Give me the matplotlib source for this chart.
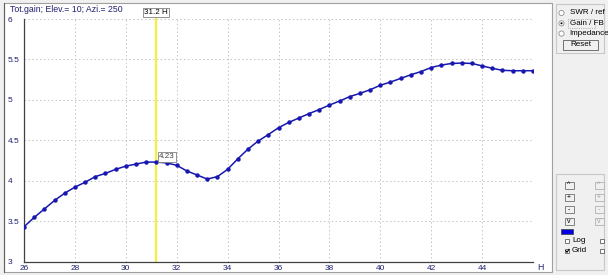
import matplotlib
matplotlib.use("Agg")
import matplotlib.pyplot as plt
from matplotlib.patches import Rectangle, Circle

plt.rcParams["font.family"] = ["Liberation Sans Narrow", "Liberation Sans", "DejaVu Sans"]

# frequency (MHz) and total gain
freq = [26.0, 26.4, 26.8, 27.2, 27.6, 28.0, 28.4, 28.8, 29.2, 29.6,
        30.0, 30.4, 30.8, 31.2, 31.6, 32.0, 32.4, 32.8, 33.2, 33.6,
        34.0, 34.4, 34.8, 35.2, 35.6, 36.0, 36.4, 36.8, 37.2, 37.6,
        38.0, 38.4, 38.8, 39.2, 39.6, 40.0, 40.4, 40.8, 41.2, 41.6,
        42.0, 42.4, 42.8, 43.2, 43.6, 44.0, 44.4, 44.8, 45.2, 45.6, 46.0]
gain = [3.43, 3.545, 3.65, 3.755, 3.845, 3.92, 3.98, 4.05, 4.09, 4.14,
        4.18, 4.205, 4.23, 4.23, 4.22, 4.19, 4.12, 4.07, 4.02, 4.05,
        4.14, 4.27, 4.39, 4.49, 4.57, 4.655, 4.72, 4.775, 4.83, 4.88,
        4.935, 4.985, 5.04, 5.08, 5.125, 5.18, 5.22, 5.265, 5.31, 5.35,
        5.40, 5.43, 5.45, 5.455, 5.45, 5.42, 5.39, 5.365, 5.36, 5.36, 5.36]

x_ticks = [26, 28, 30, 32, 34, 36, 38, 40, 42, 44]
y_ticks = [3, 3.5, 4, 4.5, 5, 5.5, 6]
y_tick_labels = ["3", "3.5", "4", "4.5", "5", "5.5", "6"]
cursor_freq = 31.2
cursor_gain = 4.23
title = "Tot.gain; Elev.= 10; Azi.= 250"

W, H = 608, 275
txt_col = "#202070"
fig = plt.figure(figsize=(W / 100, H / 100), dpi=100, facecolor="#f0f0f0")

# background "window" in pixel coords
bg = fig.add_axes([0, 0, 1, 1])
bg.set_xlim(0, W)
bg.set_ylim(H, 0)
bg.axis("off")
bg.add_patch(Rectangle((4, 3), 548, 269, facecolor="white", edgecolor="#a0a0a0", lw=0.8))
bg.plot([4, 4], [3, 272], color="#606060", lw=0.8)
bg.text(10, 10, title, color=txt_col, fontsize=6.3, va="center", ha="left")
bg.text(540, 267, "H", color=txt_col, fontsize=6.3, va="center", ha="center")

# right control panel
bg.add_patch(Rectangle((556, 4), 48, 49, facecolor="none", edgecolor="#c8c8c8", lw=0.8))
for i, lab in enumerate(["SWR / ref", "Gain / FB", "Impedance"]):
    yy = 13 + i * 10.3
    bg.add_patch(Circle((561.5, yy), 2.6, facecolor="white", edgecolor="#909090", lw=0.6))
    if i == 1:
        bg.add_patch(Circle((561.5, yy), 1.0, facecolor="black"))
        bg.add_patch(Rectangle((568, yy - 4.5), 27, 9, facecolor="none",
                               edgecolor="#808080", lw=0.5, ls=":"))
    bg.text(569.5, yy, lab, fontsize=5.8, va="center", ha="left", color="black")
bg.add_patch(Rectangle((563, 40), 35, 9.5, facecolor="#f0f0f0", edgecolor="#707070", lw=0.7))
bg.text(580.5, 44.8, "Reset", fontsize=5.8, va="center", ha="center", color="black")

bg.add_patch(Rectangle((556, 174), 48, 96, facecolor="none", edgecolor="#c8c8c8", lw=0.8))
for i, sym in enumerate(["^", "+", "-", "v"]):
    yy = 181.5 + i * 12.2
    bg.add_patch(Rectangle((564.5, yy), 9, 7, facecolor="#f0f0f0", edgecolor="#707070", lw=0.6))
    bg.text(569, yy + 3.5, sym, fontsize=5, va="center", ha="center", color="black")
    bg.add_patch(Rectangle((594.5, yy), 9, 7, facecolor="#f0f0f0", edgecolor="#b0b0b0", lw=0.6))
    bg.text(599, yy + 3.5, sym, fontsize=5, va="center", ha="center", color="#a0a0a0")
bg.add_patch(Rectangle((561, 229), 12, 5, facecolor="#0000e0", edgecolor="#404040", lw=0.5))
for i, lab in enumerate(["Log", "Grid"]):
    yy = 241 + i * 10
    bg.add_patch(Rectangle((565, yy - 2.2), 4.4, 4.4, facecolor="white", edgecolor="#606060", lw=0.6))
    bg.add_patch(Rectangle((599.5, yy - 2.2), 4.4, 4.4, facecolor="white", edgecolor="#606060", lw=0.6))
    if lab == "Grid":
        bg.plot([565.8, 567, 569], [yy - 0.2, yy + 1.3, yy - 1.6], color="black", lw=0.8)
    bg.text(572, yy, lab, fontsize=5.8, va="center", ha="left", color="black")

# main chart
left, right, top, bottom = 24, 533, 19, 261.5
ax = fig.add_axes([left / W, 1 - bottom / H, (right - left) / W, (bottom - top) / H])
ax.set_facecolor("none")
ax.set_xlim(26, 46)
ax.set_ylim(3, 6)
ax.set_xticks(x_ticks)
ax.set_yticks(y_ticks)
ax.set_yticklabels(y_tick_labels)
ax.grid(True, color="#c4c4c4", ls=(0, (1.5, 2.5)), lw=0.7)
for s in ["top", "right"]:
    ax.spines[s].set_visible(False)
for s in ["left", "bottom"]:
    ax.spines[s].set_color("#404040")
    ax.spines[s].set_linewidth(0.9)
ax.tick_params(axis="both", length=0, labelsize=6, labelcolor=txt_col)
ax.tick_params(axis="x", pad=2.5)
ax.tick_params(axis="y", pad=11.5)
for lab in ax.get_yticklabels():
    lab.set_horizontalalignment("left")

ax.axvline(cursor_freq, color="#f2f040", lw=1.6, ymax=1.01, clip_on=False, zorder=2)
ax.plot(freq, gain, color="#1818b0", lw=1.1, marker="o", ms=2.2, zorder=3)

ax.text(cursor_freq, 6.08, "%.1f H" % cursor_freq, fontsize=5.8, color="black",
        ha="center", va="center",
        bbox=dict(boxstyle="square,pad=0.15", facecolor="white", edgecolor="#808080", lw=0.6))
ax.text(cursor_freq + 0.1, cursor_gain + 0.02, "%.2f" % cursor_gain, fontsize=5.8,
        color="#404040", ha="left", va="bottom",
        bbox=dict(boxstyle="square,pad=0.15", facecolor="white", edgecolor="#808080", lw=0.6))

fig.savefig("out.png", dpi=100, facecolor=fig.get_facecolor())
